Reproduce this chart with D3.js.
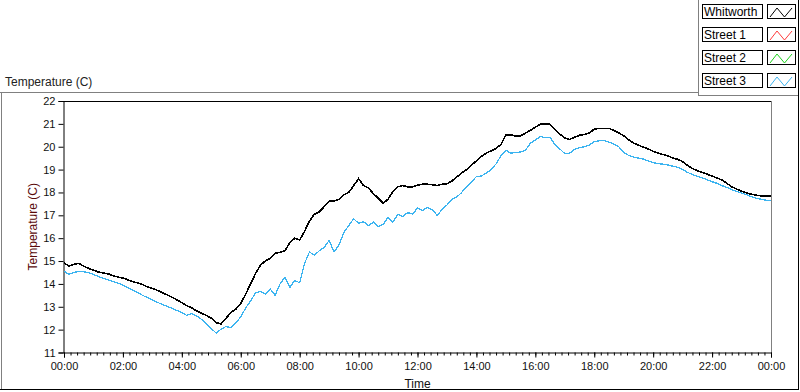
<!DOCTYPE html>
<meta charset="utf-8">
<style>
body { margin: 0; background: #fff; }
text { font-family: "Liberation Sans", Arial, sans-serif; }
.tick text { font-size: 11px; fill: #111; }
.legend-label { font-size: 12px; fill: #000; }
</style>
<svg width="800" height="392"></svg>
<script src="https://cdn.jsdelivr.net/npm/d3@7"></script>
<script>

// readings every 10 minutes, 00:00 -> 24:00
var stepMinutes = 10;

var whitworth = [
  14.92, 14.78, 14.85, 14.90, 14.78, 14.68, 14.60, 14.52, 14.48, 14.44,
  14.36, 14.30, 14.26, 14.18, 14.10, 14.04, 13.97, 13.87, 13.80, 13.72,
  13.62, 13.52, 13.42, 13.30, 13.18, 13.05, 12.95, 12.82, 12.72, 12.62,
  12.50, 12.30, 12.25, 12.50, 12.75, 12.90, 13.15, 13.55, 14.00, 14.45,
  14.82, 15.00, 15.12, 15.34, 15.38, 15.45, 15.80, 16.00, 15.92, 16.30,
  16.75, 17.05, 17.15, 17.38, 17.62, 17.62, 17.70, 17.90, 18.00, 18.30,
  18.60, 18.30, 18.20, 17.95, 17.75, 17.53, 17.70, 18.05, 18.25, 18.30,
  18.25, 18.25, 18.32, 18.36, 18.36, 18.34, 18.30, 18.36, 18.38, 18.50,
  18.68, 18.85, 19.00, 19.20, 19.38, 19.58, 19.72, 19.82, 19.93, 20.10,
  20.52, 20.52, 20.47, 20.47, 20.60, 20.72, 20.85, 20.98, 21.00, 20.98,
  20.77, 20.55, 20.38, 20.32, 20.42, 20.50, 20.54, 20.60, 20.77, 20.80,
  20.80, 20.80, 20.72, 20.60, 20.48, 20.30, 20.16, 20.07, 19.98, 19.90,
  19.80, 19.72, 19.66, 19.60, 19.50, 19.45, 19.35, 19.18, 19.05, 18.95,
  18.88, 18.80, 18.72, 18.63, 18.55, 18.40, 18.25, 18.15, 18.05, 17.98,
  17.92, 17.88, 17.85, 17.84, 17.84
];

var street1 = [];
var street2 = [];

var street3 = [
  14.55, 14.42, 14.50, 14.55, 14.53, 14.50, 14.42, 14.32, 14.25, 14.18,
  14.10, 14.03, 13.95, 13.84, 13.72, 13.62, 13.50, 13.40, 13.30, 13.20,
  13.10, 13.02, 12.93, 12.84, 12.75, 12.62, 12.70, 12.60, 12.45, 12.25,
  12.05, 11.85, 12.02, 12.14, 12.08, 12.30, 12.55, 12.95, 13.25, 13.60,
  13.68, 13.55, 13.78, 13.50, 14.00, 14.30, 13.85, 14.15, 14.05, 14.90,
  15.40, 15.25, 15.45, 15.60, 15.90, 15.40, 15.70, 16.25, 16.55, 16.85,
  16.65, 16.72, 16.55, 16.70, 16.50, 16.60, 16.92, 16.70, 17.05, 16.95,
  17.12, 17.05, 17.32, 17.20, 17.35, 17.25, 17.00, 17.25, 17.45, 17.70,
  17.80, 18.00, 18.25, 18.45, 18.70, 18.72, 18.85, 19.00, 19.25, 19.60,
  19.85, 19.72, 19.75, 19.77, 19.85, 20.16, 20.29, 20.45, 20.40, 20.40,
  20.10, 19.90, 19.70, 19.72, 19.88, 19.96, 20.00, 20.08, 20.22, 20.26,
  20.28, 20.20, 20.12, 20.00, 19.75, 19.62, 19.55, 19.50, 19.46, 19.38,
  19.30, 19.26, 19.24, 19.20, 19.15, 19.10, 19.00, 18.88, 18.78, 18.70,
  18.64, 18.55, 18.47, 18.40, 18.30, 18.22, 18.12, 18.05, 17.98, 17.90,
  17.82, 17.75, 17.70, 17.66, 17.66
];

var seriesNames = ["Whitworth", "Street 1", "Street 2", "Street 3"];
var seriesColors = ["#000000", "#ff3c3c", "#1ed21e", "#3cb4f0"];
var seriesValues = [whitworth, street1, street2, street3];

var yTicks = [11, 12, 13, 14, 15, 16, 17, 18, 19, 20, 21, 22];
var xTickLabels = ["00:00", "02:00", "04:00", "06:00", "08:00", "10:00", "12:00",
                   "14:00", "16:00", "18:00", "20:00", "22:00", "00:00"];
var minorPerMajor = 9;

var svg = d3.select("svg");

var plot = { left: 64, right: 771, top: 101, bottom: 352.5 };

var x = d3.scaleLinear().domain([0, 1440]).range([plot.left, plot.right]);
var y = d3.scaleLinear().domain([11, 22]).range([plot.bottom, plot.top]);

// outer panel frame
svg.append("line").attr("x1", 0).attr("x2", 698).attr("y1", 92.5).attr("y2", 92.5).attr("stroke", "#808080");
svg.append("line").attr("x1", 1.5).attr("x2", 1.5).attr("y1", 92).attr("y2", 390).attr("stroke", "#808080");
svg.append("line").attr("x1", 0).attr("x2", 799).attr("y1", 389.5).attr("y2", 389.5).attr("stroke", "#000");
svg.append("line").attr("x1", 798.5).attr("x2", 798.5).attr("y1", 0).attr("y2", 390).attr("stroke", "#000");
// legend panel edge
svg.append("line").attr("x1", 698.5).attr("x2", 698.5).attr("y1", 0).attr("y2", 95).attr("stroke", "#808080");
svg.append("line").attr("x1", 698).attr("x2", 798).attr("y1", 95.5).attr("y2", 95.5).attr("stroke", "#808080");

svg.append("text")
    .attr("x", 5).attr("y", 86)
    .style("font-size", "12px").style("fill", "#222")
    .text("Temperature (C)");

// plot frame
svg.append("line").attr("x1", plot.left).attr("x2", plot.right + 1).attr("y1", plot.top + 0.5).attr("y2", plot.top + 0.5).attr("stroke", "#000");
svg.append("line").attr("x1", plot.right + 0.5).attr("x2", plot.right + 0.5).attr("y1", plot.top).attr("y2", plot.bottom).attr("stroke", "#808080");

// y axis
var yAxis = svg.append("g")
    .attr("transform", "translate(" + (plot.left - 0.5) + ",0)")
    .call(d3.axisLeft(y).tickValues(yTicks).tickSize(5).tickPadding(3).tickFormat(d3.format("d")));
yAxis.select(".domain").attr("stroke", "#000");

// x axis, minor ticks first
var minorTicks = d3.range(0, 1440 + 1, 120 / minorPerMajor);
svg.append("g")
    .attr("transform", "translate(0," + plot.bottom + ")")
    .call(d3.axisBottom(x).tickValues(minorTicks).tickSize(3).tickFormat(""))
    .call(function(g) { g.select(".domain").remove(); });

var xAxis = svg.append("g")
    .attr("transform", "translate(0," + plot.bottom + ")")
    .call(d3.axisBottom(x)
      .tickValues(d3.range(0, 1440 + 1, 120))
      .tickSize(5).tickPadding(5)
      .tickFormat(function(d, i) { return xTickLabels[i]; }));
xAxis.select(".domain").attr("stroke", "#000");

svg.selectAll(".tick line").attr("stroke", "#000");

// axis titles
svg.append("text")
    .attr("x", (plot.left + plot.right) / 2).attr("y", 388)
    .attr("text-anchor", "middle")
    .style("font-size", "12px").style("fill", "#111")
    .text("Time");

svg.append("text")
    .attr("transform", "translate(37," + (plot.top + plot.bottom) / 2 + ") rotate(-90)")
    .attr("text-anchor", "middle")
    .style("font-size", "12px").style("fill", "#5a0a0a")
    .text("Temperature (C)");

// series
var line = d3.line()
    .x(function(d, i) { return x(i * stepMinutes); })
    .y(function(d) { return y(d); });

svg.append("clipPath").attr("id", "clip")
  .append("rect").attr("x", plot.left).attr("y", plot.top)
  .attr("width", plot.right - plot.left).attr("height", plot.bottom - plot.top);

svg.append("g").attr("clip-path", "url(#clip)")
  .selectAll("path")
  .data([3, 0])
  .enter().append("path")
    .attr("d", function(k) { return seriesValues[k].length ? line(seriesValues[k]) : null; })
    .attr("fill", "none")
    .attr("stroke", function(k) { return seriesColors[k]; })
    .attr("stroke-width", function(k) { return k === 0 ? 1.6 : 1.3; })
    .attr("shape-rendering", "crispEdges");

// legend
var legend = svg.append("g").selectAll("g")
    .data(seriesNames)
    .enter().append("g")
    .attr("transform", function(d, i) { return "translate(0," + (4 + i * 23) + ")"; });

legend.append("rect")
    .attr("x", 702.5).attr("y", 0.5).attr("width", 60).attr("height", 14)
    .attr("fill", "#fff").attr("stroke", "#000");

legend.append("text")
    .attr("class", "legend-label")
    .attr("x", 704).attr("y", 11.5)
    .text(function(d) { return d; });

legend.append("rect")
    .attr("x", 767.5).attr("y", 0.5).attr("width", 28).attr("height", 14)
    .attr("fill", "#fff").attr("stroke", "#000");

legend.append("polyline")
    .attr("points", "770,13 777,4 784.5,13 792,4")
    .attr("fill", "none")
    .attr("stroke", function(d, i) { return seriesColors[i]; })
    .attr("stroke-width", 1);

</script>
